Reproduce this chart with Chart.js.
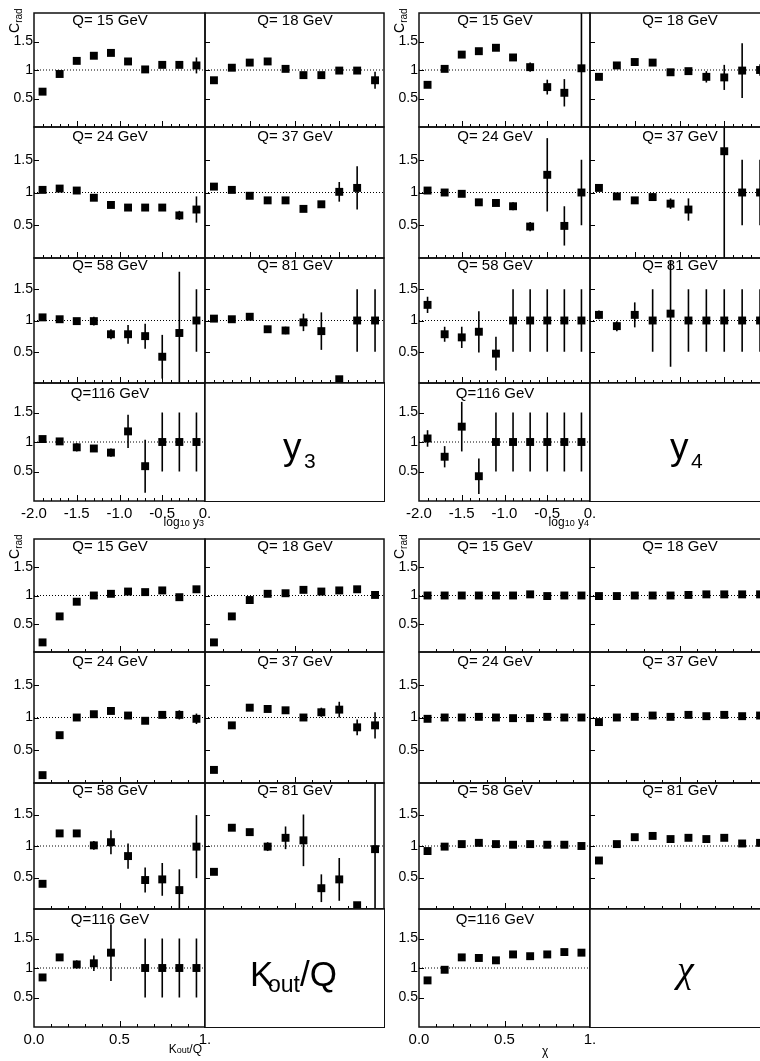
<!DOCTYPE html>
<html>
<head>
<meta charset="utf-8">
<script src="https://cdn.jsdelivr.net/npm/chart.js@4.4.1/dist/chart.umd.min.js"></script>
<style>
  body { margin: 0; width: 760px; height: 1061px; overflow: hidden; background: #fff; position: relative;
         font-family: "Liberation Sans", Arial, sans-serif; color: #000; }
  canvas { position: absolute; }
  .t { position: absolute; white-space: nowrap; line-height: 1; }
  .box { position: absolute; border: 1.5px solid #111; box-sizing: border-box; }
</style>
</head>
<body>
<script>
// bin centres on the x axis
const logCentres = [-1.9, -1.7, -1.5, -1.3, -1.1, -0.9, -0.7, -0.5, -0.3, -0.1];
const fracCentres = [0.05, 0.15, 0.25, 0.35, 0.45, 0.55, 0.65, 0.75, 0.85, 0.95];

// axis ticks and their labels
const logTicks = [-2, -1.5, -1, -0.5, 0];
const logTickLabels = ['-2.0', '-1.5', '-1.0', '-0.5', '0.'];
const fracTicks = [0, 0.5, 1];
const fracTickLabels = ['0.0', '0.5', '1.'];
const yTicks = [0.5, 1, 1.5];
const yTickLabels = ['0.5', '1', '1.5'];

const qLabels = ['Q= 15 GeV', 'Q= 18 GeV', 'Q= 24 GeV', 'Q= 37 GeV', 'Q= 58 GeV', 'Q= 81 GeV', 'Q=116 GeV'];

// C_rad versus log10 y3
const y3Q15 = [0.62, 0.93, 1.16, 1.25, 1.30, 1.15, 1.01, 1.09, 1.09, 1.08];
const y3Q15Err = [0, 0, 0, 0, 0, 0, 0, 0.04, 0.04, 0.14];
const y3Q18 = [0.82, 1.04, 1.13, 1.15, 1.02, 0.91, 0.91, 0.99, 0.99, 0.82];
const y3Q18Err = [0, 0, 0, 0, 0, 0, 0, 0, 0.06, 0.15];
const y3Q24 = [1.04, 1.06, 1.03, 0.92, 0.81, 0.77, 0.77, 0.77, 0.65, 0.74];
const y3Q24Err = [0, 0, 0, 0, 0, 0, 0, 0, 0.07, 0.2];
const y3Q37 = [1.09, 1.04, 0.95, 0.88, 0.88, 0.75, 0.82, 1.01, 1.07, null];
const y3Q37Err = [0, 0, 0, 0, 0, 0, 0.04, 0.15, 0.33, 0];
const y3Q58 = [1.05, 1.02, 0.99, 0.99, 0.78, 0.78, 0.75, 0.42, 0.80, 1.0];
const y3Q58Err = [0, 0.03, 0.05, 0.07, 0.08, 0.15, 0.2, 0.35, 0.98, 0.5];
const y3Q81 = [1.03, 1.02, 1.06, 0.86, 0.84, 0.97, 0.83, 0.06, 1.0, 1.0];
const y3Q81Err = [0, 0, 0, 0.05, 0.06, 0.14, 0.3, 0, 0.5, 0.5];
const y3Q116 = [1.05, 1.01, 0.91, 0.89, 0.82, 1.18, 0.59, 1.0, 1.0, 1.0];
const y3Q116Err = [0, 0.03, 0.07, 0.05, 0.07, 0.28, 0.45, 0.5, 0.5, 0.5];

// C_rad versus log10 y4
const y4Q15 = [0.74, 1.02, 1.27, 1.33, 1.39, 1.22, 1.05, 0.70, 0.60, 1.03];
const y4Q15Err = [0, 0, 0, 0, 0, 0, 0.08, 0.13, 0.24, 1.2];
const y4Q18 = [0.88, 1.08, 1.14, 1.13, 0.96, 0.98, 0.88, 0.87, 0.99, 1.0];
const y4Q18Err = [0, 0, 0, 0, 0, 0, 0.1, 0.22, 0.48, 0.1];
const y4Q24 = [1.03, 1.0, 0.98, 0.85, 0.84, 0.79, 0.48, 1.27, 0.49, 1.0];
const y4Q24Err = [0, 0, 0, 0, 0, 0.06, 0.07, 0.56, 0.3, 0.5];
const y4Q37 = [1.07, 0.94, 0.88, 0.93, 0.83, 0.74, null, 1.63, 1.0, 1.0];
const y4Q37Err = [0, 0, 0, 0.06, 0.08, 0.17, 0, 1.8, 0.5, 0.5];
const y4Q58 = [1.25, 0.78, 0.73, 0.82, 0.47, 1.0, 1.0, 1.0, 1.0, 1.0];
const y4Q58Err = [0.13, 0.12, 0.17, 0.33, 0.27, 0.5, 0.5, 0.5, 0.5, 0.5];
const y4Q81 = [1.09, 0.91, 1.09, 1.0, 1.11, 1.0, 1.0, 1.0, 1.0, 1.0];
const y4Q81Err = [0.07, 0.08, 0.2, 0.5, 0.85, 0.5, 0.5, 0.5, 0.5, 0.5];
const y4Q116 = [1.06, 0.75, 1.26, 0.42, 1.0, 1.0, 1.0, 1.0, 1.0, 1.0];
const y4Q116Err = [0.14, 0.18, 0.42, 0.3, 0.5, 0.5, 0.5, 0.5, 0.5, 0.5];

// C_rad versus Kout/Q
const koQ15 = [0.17, 0.63, 0.89, 1.0, 1.03, 1.07, 1.06, 1.09, 0.97, 1.11];
const koQ15Err = [0, 0, 0, 0, 0, 0, 0, 0, 0, 0];
const koQ18 = [0.17, 0.63, 0.92, 1.03, 1.04, 1.10, 1.07, 1.09, 1.11, 1.01];
const koQ18Err = [0, 0, 0, 0, 0, 0, 0, 0, 0, 0];
const koQ24 = [0.12, 0.73, 1.0, 1.05, 1.10, 1.03, 0.95, 1.04, 1.04, 0.98];
const koQ24Err = [0, 0, 0, 0, 0, 0, 0, 0, 0.07, 0.08];
const koQ37 = [0.20, 0.88, 1.15, 1.13, 1.11, 1.0, 1.08, 1.12, 0.85, 0.88];
const koQ37Err = [0, 0, 0, 0, 0, 0, 0.07, 0.12, 0.12, 0.2];
const koQ58 = [0.40, 1.2, 1.2, 1.01, 1.06, 0.84, 0.46, 0.47, 0.30, 0.99];
const koQ58Err = [0, 0.03, 0.05, 0.07, 0.19, 0.2, 0.2, 0.26, 0.33, 0.5];
const koQ81 = [0.59, 1.29, 1.22, 0.99, 1.13, 1.09, 0.33, 0.47, 0.06, 0.95];
const koQ81Err = [0, 0, 0.05, 0.07, 0.18, 0.41, 0.22, 0.34, 0.05, 1.1];
const koQ116 = [0.84, 1.18, 1.06, 1.08, 1.26, null, 1.0, 1.0, 1.0, 1.0];
const koQ116Err = [0, 0.05, 0.07, 0.13, 0.48, 0, 0.5, 0.5, 0.5, 0.5];

// C_rad versus chi
const chiQ15 = [1.0, 1.0, 1.0, 1.0, 1.0, 1.0, 1.02, 0.99, 1.0, 1.0];
const chiQ18 = [0.99, 0.99, 1.0, 1.0, 1.0, 1.01, 1.02, 1.02, 1.02, 1.02];
const chiQ24 = [0.98, 1.0, 1.0, 1.01, 1.0, 0.99, 0.99, 1.01, 1.0, 1.0];
const chiQ37 = [0.93, 1.0, 1.01, 1.03, 1.01, 1.04, 1.02, 1.04, 1.02, 1.03];
const chiQ58 = [0.92, 0.99, 1.03, 1.05, 1.03, 1.02, 1.03, 1.02, 1.02, 1.0];
const chiQ81 = [0.77, 1.03, 1.14, 1.16, 1.11, 1.13, 1.11, 1.13, 1.04, 1.05];
const chiQ116 = [0.79, 0.97, 1.18, 1.17, 1.13, 1.23, 1.20, 1.23, 1.27, 1.26];
const chiErr = [0, 0, 0, 0, 0, 0, 0, 0, 0, 0];

// page layout (pixels)
const topRows = [13, 127, 258, 383, 501];
const bottomRows = [539, 652, 783, 909, 1027];
const leftCols = [34, 205, 384];
const rightCols = [419, 590, 769];
const qDy = [8, 10, 7.5, 10.5];
const FONT = '"Liberation Sans", Arial, sans-serif';

const groups = [
  { cols: leftCols, rows: topRows, centres: logCentres, xMin: -2, xMax: 0, ticks: logTicks, tickLabels: logTickLabels, minor: 0.1,
    sets: [[y3Q15, y3Q15Err], [y3Q18, y3Q18Err], [y3Q24, y3Q24Err], [y3Q37, y3Q37Err], [y3Q58, y3Q58Err], [y3Q81, y3Q81Err], [y3Q116, y3Q116Err]] },
  { cols: rightCols, rows: topRows, centres: logCentres, xMin: -2, xMax: 0, ticks: logTicks, tickLabels: logTickLabels, minor: 0.1,
    sets: [[y4Q15, y4Q15Err], [y4Q18, y4Q18Err], [y4Q24, y4Q24Err], [y4Q37, y4Q37Err], [y4Q58, y4Q58Err], [y4Q81, y4Q81Err], [y4Q116, y4Q116Err]] },
  { cols: leftCols, rows: bottomRows, centres: fracCentres, xMin: 0, xMax: 1, ticks: fracTicks, tickLabels: fracTickLabels, minor: 0.1,
    sets: [[koQ15, koQ15Err], [koQ18, koQ18Err], [koQ24, koQ24Err], [koQ37, koQ37Err], [koQ58, koQ58Err], [koQ81, koQ81Err], [koQ116, koQ116Err]] },
  { cols: rightCols, rows: bottomRows, centres: fracCentres, xMin: 0, xMax: 1, ticks: fracTicks, tickLabels: fracTickLabels, minor: 0.1,
    sets: [[chiQ15, chiErr], [chiQ18, chiErr], [chiQ24, chiErr], [chiQ37, chiErr], [chiQ58, chiErr], [chiQ81, chiErr], [chiQ116, chiErr]] }
];

// frame, inward ticks, tick labels, Q label and error bars for one pad
function padPlugin(p) {
  return {
    id: 'pad',
    beforeDatasetsDraw(chart) {
      const { ctx, chartArea: a, scales: { x, y } } = chart;
      ctx.save();
      ctx.beginPath();
      ctx.rect(a.left, a.top, a.width, a.height);
      ctx.clip();
      ctx.strokeStyle = '#000';
      ctx.lineWidth = 1.6;
      p.points.forEach(pt => {
        if (!pt.e) return;
        const px = x.getPixelForValue(pt.x);
        ctx.beginPath();
        ctx.moveTo(px, y.getPixelForValue(pt.y - pt.e));
        ctx.lineTo(px, y.getPixelForValue(pt.y + pt.e));
        ctx.stroke();
      });
      ctx.restore();
    },
    afterDatasetsDraw(chart) {
      const { ctx, chartArea: a, scales: { x, y } } = chart;
      ctx.save();
      ctx.strokeStyle = '#111';
      ctx.lineWidth = 1.5;
      ctx.strokeRect(a.left, a.top, a.width, a.height);
      ctx.lineWidth = 1;
      ctx.strokeStyle = '#000';
      ctx.beginPath();
      yTicks.forEach(v => {
        const py = Math.round(y.getPixelForValue(v)) + 0.5;
        ctx.moveTo(a.left, py);
        ctx.lineTo(a.left + 5, py);
      });
      const n = Math.round((p.xMax - p.xMin) / p.minor);
      for (let i = 1; i < n; i++) {
        const v = p.xMin + i * p.minor;
        const major = p.ticks.some(t => Math.abs(t - v) < 1e-6);
        const px = Math.round(x.getPixelForValue(v)) + 0.5;
        ctx.moveTo(px, a.bottom);
        ctx.lineTo(px, a.bottom - (major ? 6 : 3));
      }
      ctx.stroke();

      ctx.fillStyle = '#000';
      ctx.font = '15px ' + FONT;
      ctx.textAlign = 'center';
      ctx.textBaseline = 'middle';
      ctx.fillText(p.q, a.left + p.qDx, a.top + p.qDy);

      if (p.yLabels) {
        ctx.font = '14px ' + FONT;
        ctx.textAlign = 'right';
        yTicks.forEach((v, i) => ctx.fillText(yTickLabels[i], a.left - 1, y.getPixelForValue(v)));
      }
      if (p.xLabels) {
        ctx.font = '15px ' + FONT;
        ctx.textAlign = 'center';
        ctx.textBaseline = 'top';
        p.ticks.forEach((v, i) => ctx.fillText(p.tickLabels[i], x.getPixelForValue(v), a.bottom + 5));
      }
      ctx.restore();
    }
  };
}

function makePad(g, k) {
  const row = Math.floor(k / 2), col = k % 2;
  const left = g.cols[col], w = g.cols[col + 1] - g.cols[col];
  const top = g.rows[row], h = g.rows[row + 1] - g.rows[row];
  const yLabels = col === 0, xLabels = row === 3 && col === 0;
  const padL = yLabels ? 36 : 8, padR = 8, padT = 8, padB = xLabels ? 26 : 8;

  const [vals, errs] = g.sets[k];
  const points = [];
  vals.forEach((v, i) => { if (v !== null) points.push({ x: g.centres[i], y: v, e: errs[i] }); });

  const cv = document.createElement('canvas');
  cv.width = w + padL + padR;
  cv.height = h + padT + padB;
  cv.style.left = (left - padL) + 'px';
  cv.style.top = (top - padT) + 'px';
  document.body.appendChild(cv);

  const p = { points, xMin: g.xMin, xMax: g.xMax, ticks: g.ticks, tickLabels: g.tickLabels, minor: g.minor,
              q: qLabels[k], qDx: col === 0 ? 76 : 90, qDy: qDy[row], yLabels, xLabels };

  new Chart(cv, {
    type: 'scatter',
    data: {
      datasets: [
        { type: 'line', data: [{ x: g.xMin, y: 1 }, { x: g.xMax, y: 1 }], borderColor: '#000', borderWidth: 1,
          borderDash: [1, 2], pointRadius: 0, order: 2 },
        { data: points, pointStyle: 'rect', pointRadius: 5.6, backgroundColor: '#000', borderWidth: 0, order: 1 }
      ]
    },
    options: {
      responsive: false,
      animation: false,
      events: [],
      layout: { padding: { left: padL, right: padR, top: padT, bottom: padB } },
      plugins: { legend: { display: false }, tooltip: { enabled: false } },
      scales: {
        x: { type: 'linear', min: g.xMin, max: g.xMax, display: false },
        y: { type: 'linear', min: 0, max: 2, display: false }
      }
    },
    plugins: [padPlugin(p)]
  });
}

function addText(html, css) {
  const d = document.createElement('div');
  d.className = 't';
  d.innerHTML = html;
  Object.assign(d.style, css);
  document.body.appendChild(d);
  return d;
}

groups.forEach(g => {
  for (let k = 0; k < 7; k++) makePad(g, k);
  // empty pad holding the variable name
  const b = document.createElement('div');
  b.className = 'box';
  Object.assign(b.style, { left: (g.cols[1] - 0.75) + 'px', top: (g.rows[3] - 0.75) + 'px',
    width: (g.cols[2] - g.cols[1] + 1.5) + 'px', height: (g.rows[4] - g.rows[3] + 1.5) + 'px' });
  document.body.appendChild(b);
  // y axis title
  addText('C<sub style="font-size:10px;vertical-align:-3px">rad</sub>',
    { left: (g.cols[0] - 27) + 'px', top: (g.rows[0] + 20) + 'px', fontSize: '14px',
      transform: 'rotate(-90deg)', transformOrigin: 'left top' });
});

// x axis titles
addText('log<span style="font-size:9px">10</span> y<span style="font-size:9px">3</span>',
  { right: (760 - 204) + 'px', top: '516px', fontSize: '12px' });
addText('log<span style="font-size:9px">10</span> y<span style="font-size:9px">4</span>',
  { right: (760 - 589) + 'px', top: '516px', fontSize: '12px' });
addText('K<span style="font-size:9px">out</span>/Q', { right: (760 - 202) + 'px', top: '1043px', fontSize: '12px' });
addText('&chi;', { left: '542px', top: '1045px', fontSize: '12px' });

// variable names inside the empty pads
addText('y', { left: '283px', top: '428px', fontSize: '37px' });
addText('3', { left: '304px', top: '450px', fontSize: '21px' });
addText('y', { left: '670px', top: '428px', fontSize: '37px' });
addText('4', { left: '691px', top: '450px', fontSize: '21px' });
addText('K', { left: '250px', top: '956px', fontSize: '35px' });
addText('out', { left: '268px', top: '973px', fontSize: '23px' });
addText('/Q', { left: '300px', top: '956px', fontSize: '35px' });
addText('&chi;', { left: '677px', top: '950px', fontSize: '38px', fontFamily: '"Liberation Serif", serif', fontStyle: 'italic' });
</script>
</body>
</html>
